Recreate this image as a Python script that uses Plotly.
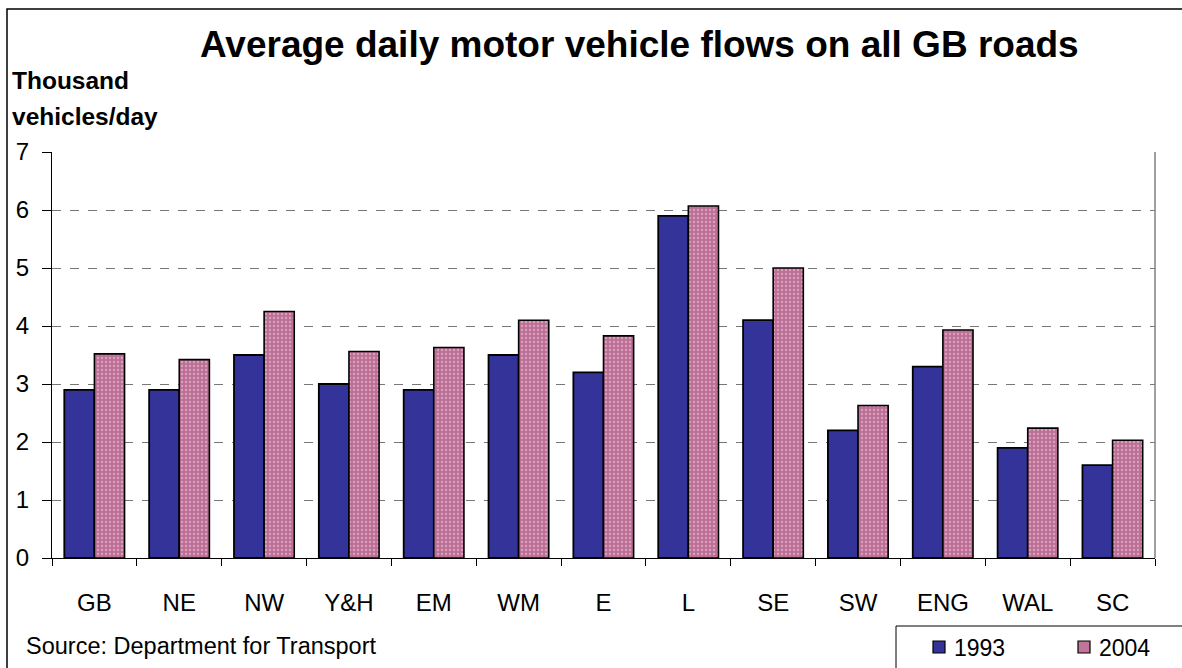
import plotly.graph_objects as go

regions = ["GB", "NE", "NW", "Y&H", "EM", "WM", "E", "L", "SE", "SW", "ENG", "WAL", "SC"]
flows_1993 = [2.9, 2.9, 3.5, 3.0, 2.9, 3.5, 3.2, 5.9, 4.1, 2.2, 3.3, 1.9, 1.6]
flows_2004 = [3.52, 3.42, 4.25, 3.56, 3.63, 4.1, 3.83, 6.07, 5.0, 2.63, 3.93, 2.24, 2.03]
series_names = ["1993", "2004"]
y_ticks = [0, 1, 2, 3, 4, 5, 6, 7]

W, H = 1182, 668
L, R, T, B = 52, 1155, 152, 558  # plot area in pixels

FONT = "Liberation Sans, Arial, sans-serif"
C1993 = "#333399"
C2004 = "#c07599"


def px(x):
    return (x - L) / (R - L)


def py(y):
    return (B - y) / (B - T)


fig = go.Figure()
fig.add_trace(go.Bar(
    x=regions, y=flows_1993, name=series_names[0],
    marker=dict(color=C1993, line=dict(color="black", width=1.8)),
))
fig.add_trace(go.Bar(
    x=regions, y=flows_2004, name=series_names[1],
    marker=dict(
        color=C2004,
        line=dict(color="black", width=1.6),
        pattern=dict(shape=".", bgcolor="#bd7096", fgcolor="#dca3bf", size=4, solidity=0.25,
                     fillmode="replace"),
    ),
))

fig.update_layout(
    width=W, height=H,
    margin=dict(l=L, r=W - R, t=T, b=H - B, autoexpand=False),
    paper_bgcolor="white", plot_bgcolor="white",
    barmode="group", bargap=0.29, bargroupgap=0,
    font=dict(family=FONT, color="black"),
    showlegend=False,
    xaxis=dict(
        showline=True, linecolor="black", linewidth=1,
        ticks="outside", ticklen=7, tickcolor="black", tickson="boundaries",
        tickfont=dict(size=24, family=FONT), ticklabelstandoff=23,
        showgrid=False,
    ),
    yaxis=dict(
        range=[0, 7], tickvals=y_ticks,
        showline=True, linecolor="black", linewidth=1,
        ticks="outside", ticklen=9, tickcolor="black",
        tickfont=dict(size=24, family=FONT), ticklabelstandoff=8,
        showgrid=True, gridcolor="#777777", griddash="dash", gridwidth=1.3,
        zeroline=False,
    ),
)

shapes = [
    # outer chart frame
    dict(type="rect", xref="paper", yref="paper",
         x0=px(7), x1=px(W + 20), y0=py(9), y1=py(H + 20),
         line=dict(color="black", width=1.5), fillcolor="rgba(0,0,0,0)", layer="below"),
    # right edge of plot area
    dict(type="line", xref="paper", yref="paper", x0=1, x1=1, y0=0, y1=1,
         line=dict(color="#808080", width=1.5)),
    # legend box
    dict(type="rect", xref="paper", yref="paper",
         x0=px(896), x1=px(W + 20), y0=py(626), y1=py(H + 20),
         line=dict(color="black", width=1), fillcolor="rgba(0,0,0,0)"),
]

# legend keys
legend_keys = [(933, C1993, series_names[0]), (1078, C2004, series_names[1])]
for kx, col, label in legend_keys:
    shapes.append(dict(type="rect", xref="paper", yref="paper",
                       x0=px(kx), x1=px(kx + 12), y0=py(641), y1=py(653),
                       line=dict(color="black", width=1.2), fillcolor=col))
    fig.add_annotation(
        text=label, xref="paper", yref="paper", x=px(kx + 19), y=py(648),
        xanchor="left", yanchor="middle", showarrow=False, font=dict(size=23, family=FONT),
    )
fig.update_layout(shapes=shapes)

fig.add_annotation(
    text="<b>Average daily motor vehicle flows on all GB roads</b>",
    xref="paper", yref="paper", x=px(639), y=py(45), xanchor="center", yanchor="middle",
    showarrow=False, font=dict(size=37, family=FONT),
)
fig.add_annotation(
    text="<b>Thousand</b>", xref="paper", yref="paper", x=px(10), y=py(80),
    xanchor="left", yanchor="middle", showarrow=False, font=dict(size=24.5, family=FONT),
)
fig.add_annotation(
    text="<b>vehicles/day</b>", xref="paper", yref="paper", x=px(10), y=py(116),
    xanchor="left", yanchor="middle", showarrow=False, font=dict(size=24.5, family=FONT),
)
fig.add_annotation(
    text="Source: Department for Transport", xref="paper", yref="paper", x=px(24), y=py(646),
    xanchor="left", yanchor="middle", showarrow=False, font=dict(size=23.5, family=FONT),
)

fig.write_html("out.html")
